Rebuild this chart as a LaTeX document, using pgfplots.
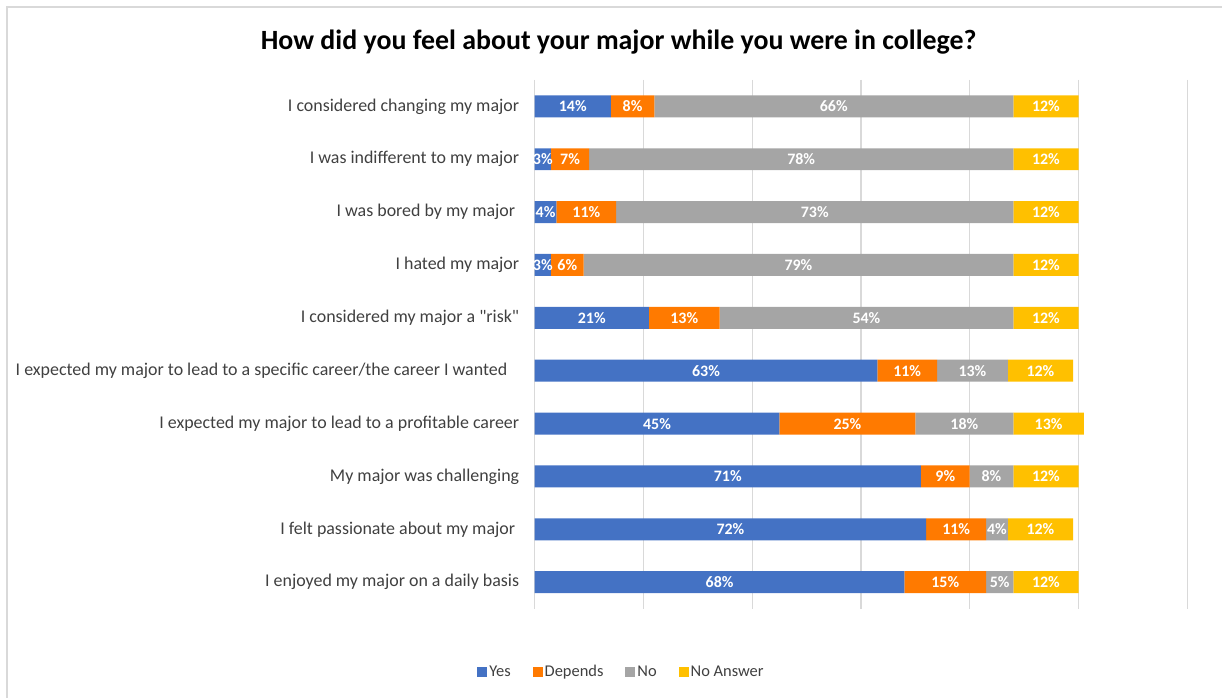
\documentclass[border=0pt]{standalone}
\usepackage{pgfplots}
\pgfplotsset{compat=1.18}
\usepackage{pgfplotstable}
\usepackage{fontspec}
\setmainfont{Carlito}
\definecolor{cyes}{HTML}{4472C4}
\definecolor{cdep}{HTML}{FF7A00}
\definecolor{cno}{HTML}{A5A5A5}
\definecolor{cna}{HTML}{FFC000}
\definecolor{txt}{HTML}{404040}
\definecolor{gridc}{HTML}{D9D9D9}

\pgfplotstableread{
idx yes dep no na
1 14 8 66 12
2 3 7 78 12
3 4 11 73 12
4 3 6 79 12
5 21 13 54 12
6 63 11 13 12
7 45 25 18 13
8 71 9 8 12
9 72 11 4 12
10 68 15 5 12
}\data

\pgfplotsset{
  common/.style={
    at={(535bp,89bp)}, anchor=south west,
    width=653bp, height=529bp, scale only axis,
    xmin=0, xmax=120, ymin=0.5, ymax=10.5, y dir=reverse,
    /pgf/number format/assume math mode=true,
  },
  lbl/.style={
    only marks, mark=none, point meta=explicit,
    nodes near coords={\pgfmathprintnumber[fixed,precision=0,assume math mode=true]{\pgfplotspointmeta}\%},
    nodes near coords style={anchor=center, text=white, font=\bfseries\fontsize{16}{18}\selectfont, inner sep=0pt},
  },
}

\begin{document}
\begin{tikzpicture}
\path (0,0) rectangle (1223bp,698bp);
\draw[gridc, line width=1.5bp] (7bp,0) -- (7bp,691bp) -- (1223bp,691bp);
\node[font=\bfseries\fontsize{28}{32}\selectfont, text=black] at (619bp,656bp) {How did you feel about your major while you were in college?};
\begin{axis}[common,
  xbar stacked, bar width=22bp,
  axis line style={draw=none},
  xtick={0,20,...,120}, xticklabels={},
  xmajorgrids, grid style={gridc, line width=1.3bp},
  major tick length=0pt,
  ytick={1,...,10},
  yticklabels={I considered changing my major,
    I was indifferent to my major,
    I was bored by my major\rule{4bp}{0pt},
    I hated my major,
    I considered my major a \textquotedbl risk\textquotedbl,
    I expected my major to lead to a specific career/the career I wanted\rule{12bp}{0pt},
    I expected my major to lead to a profitable career,
    My major was challenging,
    I felt passionate about my major\rule{4bp}{0pt},
    I enjoyed my major on a daily basis},
  yticklabel style={font=\fontsize{18}{20}\selectfont, text=txt, anchor=east, xshift=-12bp},
  legend style={at={(0.133,-0.119)}, anchor=center, draw=none, legend columns=4,
    font=\fontsize{16.5}{18}\selectfont, text=txt,
    /tikz/every even column/.append style={column sep=20bp}},
  legend image code/.code={\fill[#1] (0bp,-5bp) rectangle (10bp,5bp);},
]
\addplot[fill=cyes, draw=none] table[x=yes, y=idx]{\data};
\addplot[fill=cdep, draw=none] table[x=dep, y=idx]{\data};
\addplot[fill=cno, draw=none] table[x=no, y=idx]{\data};
\addplot[fill=cna, draw=none] table[x=na, y=idx]{\data};
\legend{Yes, Depends, No, No Answer}
\end{axis}
\begin{axis}[common, hide axis]
\addplot[lbl] table[x expr=\thisrow{yes}/2, y=idx, meta=yes]{\data};
\addplot[lbl] table[x expr=\thisrow{yes}+\thisrow{dep}/2, y=idx, meta=dep]{\data};
\addplot[lbl] table[x expr=\thisrow{yes}+\thisrow{dep}+\thisrow{no}/2, y=idx, meta=no]{\data};
\addplot[lbl] table[x expr=\thisrow{yes}+\thisrow{dep}+\thisrow{no}+\thisrow{na}/2, y=idx, meta=na]{\data};
\end{axis}
\end{tikzpicture}
\end{document}
